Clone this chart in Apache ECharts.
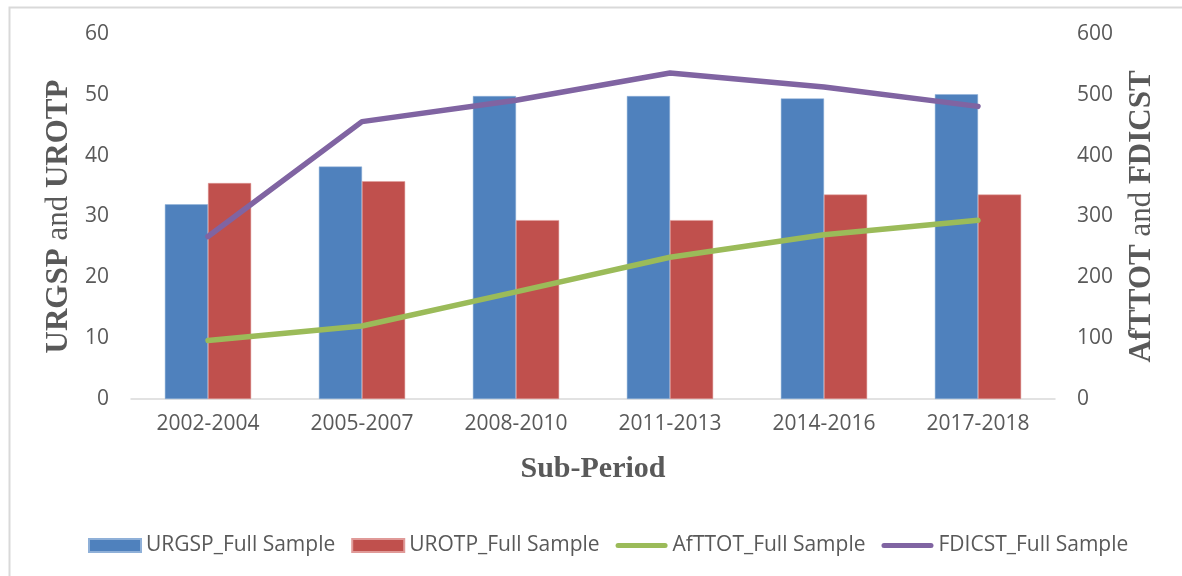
<!DOCTYPE html>
<html>
<head>
<meta charset="utf-8">
<script src="https://cdn.jsdelivr.net/npm/echarts@6/dist/echarts.min.js"></script>
<style>
html,body{margin:0;padding:0;background:#fff;}
#chart{width:1182px;height:576px;}
</style>
</head>
<body>
<div id="chart"></div>
<script>
const categories = ['2002-2004','2005-2007','2008-2010','2011-2013','2014-2016','2017-2018'];
const urgsp = [32.0, 38.2, 49.8, 49.8, 49.4, 50.1];
const urotp = [35.5, 35.8, 29.4, 29.4, 33.6, 33.6];
const afttot = [96, 120, 176, 233, 270, 294];
const fdicst = [267, 456, 491, 536, 513, 481];

const seriesNames = ['URGSP_Full Sample','UROTP_Full Sample','AfTTOT_Full Sample','FDICST_Full Sample'];
const colors = ['#4F81BD','#C0504D','#9BBB59','#8064A2'];

const labelFont = {color:'#595959', fontFamily:'Open Sans', fontSize:21};
const titleRich = {
  b:{fontFamily:'Liberation Serif', fontWeight:'bold', fontSize:31, color:'#595959'},
  r:{fontFamily:'Liberation Serif', fontWeight:'normal', fontSize:31, color:'#595959'}
};
const lineIcon = 'path://M2.5,0 L49.5,0 A2.5,2.5 0 0 1 49.5,5 L2.5,5 A2.5,2.5 0 0 1 2.5,0 Z';

const chart = echarts.init(document.getElementById('chart'), null, {renderer:'canvas'});
chart.setOption({
  animation:false,
  backgroundColor:'#fff',
  color: colors,
  graphic:[{
    type:'rect', left:7, top:5, shape:{width:1300, height:700},
    style:{fill:'none', stroke:'#d9d9d9', lineWidth:2}, silent:true
  }],
  grid:{left:131, right:127, top:34, bottom:177, containLabel:false},
  legend:{
    top:530, left:83,
    itemWidth:52, itemHeight:13, itemGap:16,
    textStyle:{color:'#595959', fontFamily:'Open Sans', fontSize:21},
    data:[
      {name:seriesNames[0], icon:'rect'},
      {name:seriesNames[1], icon:'rect'},
      {name:seriesNames[2], icon:lineIcon},
      {name:seriesNames[3], icon:lineIcon}
    ]
  },
  xAxis:{
    type:'category', data:categories,
    axisLine:{show:true, lineStyle:{color:'#d9d9d9', width:1.5}},
    axisTick:{show:false},
    axisLabel:Object.assign({margin:15}, labelFont),
    name:'Sub-Period', nameLocation:'middle', nameGap:55, nameMoveOverlap:false,
    nameTextStyle:{fontFamily:'Liberation Serif', fontWeight:'bold', fontSize:30, color:'#595959'}
  },
  yAxis:[{
    type:'value', min:0, max:60, interval:10,
    axisLine:{show:false}, axisTick:{show:false}, splitLine:{show:false},
    axisLabel:Object.assign({margin:22}, labelFont),
    name:'{b|URGSP}{r| and }{b|UROTP}', nameLocation:'middle', nameRotate:90, nameGap:57, nameMoveOverlap:false,
    nameTextStyle:{rich:titleRich}
  },{
    type:'value', min:0, max:600, interval:100, position:'right',
    axisLine:{show:false}, axisTick:{show:false}, splitLine:{show:false},
    axisLabel:Object.assign({margin:22}, labelFont),
    name:'{b|AfTTOT}{r| and }{b|FDICST}', nameLocation:'middle', nameRotate:90, nameGap:71, nameMoveOverlap:false,
    nameTextStyle:{rich:titleRich}
  }],
  series:[
    {name:seriesNames[0], type:'bar', data:urgsp, yAxisIndex:0, barGap:'0%', barCategoryGap:'44%',
      itemStyle:{color:colors[0], borderColor:'#8fb0d8', borderWidth:0.5}},
    {name:seriesNames[1], type:'bar', data:urotp, yAxisIndex:0, barGap:'0%', barCategoryGap:'44%',
      itemStyle:{color:colors[1], borderColor:'#e09a98', borderWidth:0.5}},
    {name:seriesNames[2], type:'line', data:afttot, yAxisIndex:1, symbol:'none', z:5,
      lineStyle:{color:colors[2], width:5.5, cap:'round', join:'round'}, itemStyle:{color:colors[2]}},
    {name:seriesNames[3], type:'line', data:fdicst, yAxisIndex:1, symbol:'none', z:5,
      lineStyle:{color:colors[3], width:5.5, cap:'round', join:'round'}, itemStyle:{color:colors[3]}}
  ]
});
</script>
</body>
</html>
